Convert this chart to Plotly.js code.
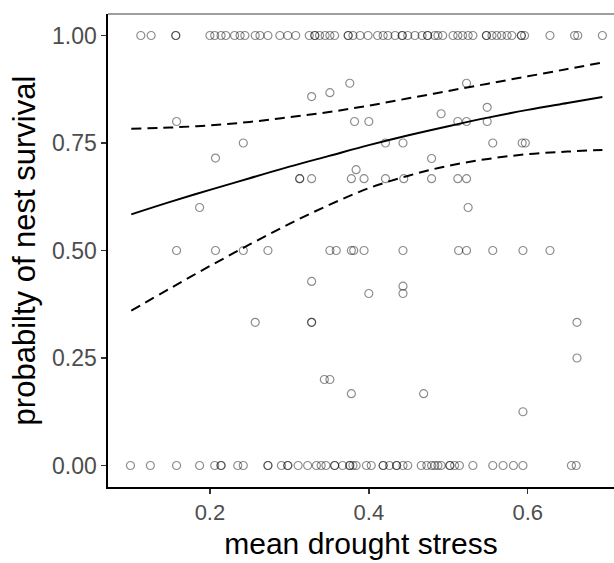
<!DOCTYPE html>
<html>
<head>
<meta charset="utf-8">
<script src="https://cdn.plot.ly/plotly-3.0.1.min.js"></script>
<style>html,body{margin:0;padding:0;background:#fff;}#chart{width:614px;height:563px;}</style>
</head>
<body>
<div id="chart"></div>
<script>
// Observed nests: survival = 1
var topX = [0.113,0.126,0.157,0.157,0.200,0.206,0.214,0.220,0.231,0.238,0.244,0.257,0.263,0.273,0.288,0.298,0.308,0.325,0.332,0.332,0.338,0.345,0.351,0.357,0.374,0.374,0.380,0.389,0.399,0.411,0.418,0.424,0.433,0.442,0.442,0.449,0.458,0.467,0.474,0.474,0.483,0.487,0.493,0.506,0.512,0.518,0.525,0.531,0.548,0.548,0.555,0.561,0.567,0.574,0.580,0.592,0.592,0.596,0.628,0.659,0.663,0.694];
// Observed nests: survival = 0
var botX = [0.100,0.125,0.158,0.187,0.206,0.214,0.214,0.235,0.242,0.273,0.273,0.290,0.298,0.298,0.311,0.323,0.334,0.340,0.346,0.357,0.357,0.367,0.376,0.376,0.380,0.384,0.397,0.403,0.418,0.418,0.426,0.435,0.435,0.443,0.449,0.466,0.473,0.479,0.483,0.487,0.491,0.502,0.502,0.508,0.514,0.531,0.556,0.569,0.582,0.594,0.655,0.661];
// Observed nests: intermediate survival
var midX = [0.158,0.376,0.328,0.351,0.242,0.207,0.382,0.400,0.313,0.313,0.328,0.384,0.378,0.394,0.187,
  0.158,0.207,0.242,0.273,0.351,0.359,0.378,0.381,0.394,0.328,0.400,0.257,0.328,0.328,0.344,0.351,0.378,
  0.523,0.491,0.549,0.512,0.523,0.549,0.421,0.443,0.556,0.593,0.597,0.479,0.421,0.444,0.479,0.512,0.523,0.525,0.443,0.513,0.523,0.556,0.594,0.628,0.443,0.443,0.662,0.662,0.469,0.594];
var midY = [0.800,0.889,0.858,0.867,0.750,0.715,0.800,0.800,0.667,0.667,0.667,0.688,0.667,0.667,0.600,
  0.5,0.5,0.5,0.5,0.5,0.5,0.5,0.5,0.5,0.428,0.400,0.333,0.333,0.333,0.200,0.200,0.167,
  0.889,0.818,0.833,0.800,0.800,0.800,0.750,0.750,0.750,0.750,0.750,0.714,0.667,0.667,0.667,0.667,0.667,0.600,0.5,0.5,0.5,0.5,0.5,0.5,0.417,0.400,0.333,0.250,0.167,0.125];
// Fitted curve and confidence bounds
var fitX   = [0.101,0.15,0.20,0.25,0.30,0.35,0.40,0.45,0.50,0.55,0.60,0.65,0.694];
var fitY   = [0.584,0.613,0.641,0.668,0.695,0.720,0.745,0.768,0.789,0.809,0.827,0.843,0.857];
var upperY = [0.783,0.786,0.791,0.799,0.810,0.822,0.837,0.854,0.871,0.888,0.905,0.922,0.937];
var lowerY = [0.360,0.412,0.464,0.514,0.562,0.606,0.645,0.674,0.697,0.713,0.724,0.730,0.734];
var xTicks = [0.2,0.4,0.6];
var yTicks = [0,0.25,0.5,0.75,1];
var yTickText = ['0.00','0.25','0.50','0.75','1.00'];

var allX = topX.concat(botX, midX);
var allY = topX.map(function(){return 1;}).concat(botX.map(function(){return 0;}), midY);

var ptStyle = {symbol:'circle-open', size:8, color:'rgba(0,0,0,0.45)', line:{width:1.2, color:'rgba(0,0,0,0.45)'}};
var traces = [
  {x: allX, y: allY, type:'scatter', mode:'markers', marker: ptStyle, hoverinfo:'skip'},
  {x: fitX, y: upperY, type:'scatter', mode:'lines', line:{color:'#000', width:2, dash:'10px,6px', shape:'spline', smoothing:1}},
  {x: fitX, y: lowerY, type:'scatter', mode:'lines', line:{color:'#000', width:2, dash:'10px,6px', shape:'spline', smoothing:1}},
  {x: fitX, y: fitY, type:'scatter', mode:'lines', line:{color:'#000', width:2, shape:'spline', smoothing:1}}
];

var font = 'Liberation Sans, Arial, Helvetica, sans-serif';
var layout = {
  width:614, height:563,
  margin:{l:108, r:0, t:14, b:76},
  paper_bgcolor:'#fff', plot_bgcolor:'#fff',
  showlegend:false,
  font:{family:font, color:'#000'},
  xaxis:{
    range:[0.0717,0.7086], tickvals:xTicks, tickformat:'.1f',
    showgrid:false, zeroline:false, showline:true, linecolor:'#000', linewidth:1.6,
    ticks:'outside', ticklen:5, tickwidth:1.5, tickcolor:'#333',
    tickfont:{family:font, size:22, color:'#4D4D4D'},
    title:{text:'mean drought stress', font:{family:font, size:30, color:'#000'}, standoff:9}
  },
  yaxis:{
    range:[-0.05,1.05], tickvals:yTicks, ticktext:yTickText,
    showgrid:false, zeroline:false, showline:true, linecolor:'#000', linewidth:1.6,
    ticks:'outside', ticklen:5, tickwidth:1.5, tickcolor:'#333',
    tickfont:{family:font, size:23, color:'#4D4D4D'},
    title:{text:'probabilty of nest survival', font:{family:font, size:31, color:'#000'}, standoff:7}
  },
  shapes:[{type:'line', xref:'paper', yref:'paper', x0:0, x1:1, y0:1, y1:1, line:{color:'#7f7f7f', width:1.5}}]
};
Plotly.newPlot('chart', traces, layout, {staticPlot:true, displayModeBar:false});
</script>
</body>
</html>
